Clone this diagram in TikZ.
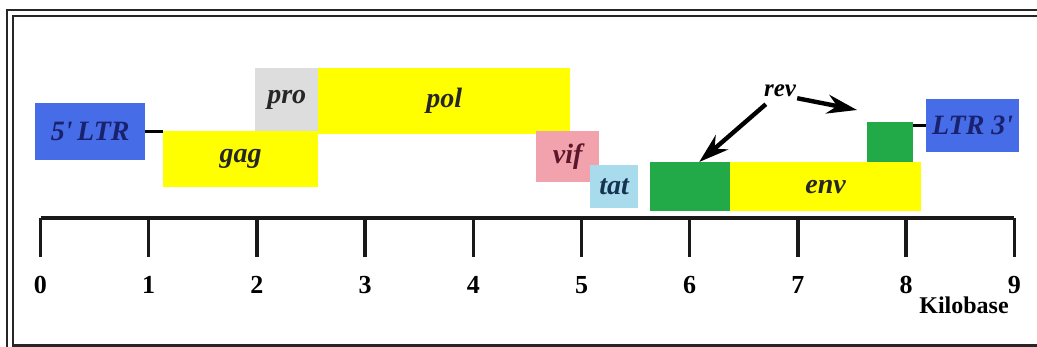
\documentclass[tikz,border=0pt]{standalone}
\usepackage{fontspec}
\setmainfont{Liberation Serif}
\usetikzlibrary{arrows.meta,calc}

\definecolor{ltrblue}{RGB}{70,108,232}
\definecolor{genyellow}{RGB}{255,255,0}
\definecolor{progray}{RGB}{221,221,221}
\definecolor{vifpink}{RGB}{242,162,172}
\definecolor{tatblue}{RGB}{168,220,236}
\definecolor{revgreen}{RGB}{34,170,72}
\definecolor{ltrtext}{RGB}{24,34,110}
\definecolor{viftext}{RGB}{92,22,42}
\definecolor{tattext}{RGB}{22,50,82}

\newcommand{\genefont}{\fontsize{28}{32}\selectfont\bfseries\itshape}
\newcommand{\numfont}{\fontsize{26}{30}\selectfont\bfseries}

\begin{document}
\begin{tikzpicture}[
		x=1pt,y=-1pt,
		frame/.style={line width=2.6pt,black!85},
		axisline/.style={line width=3.6pt,black!90,line cap=square},
		tick/.style={line width=3.4pt,black!90},
		gene/.style={rectangle,inner sep=0pt,anchor=north west,font=\genefont,text=black!85},
		link/.style={line width=2.8pt,black},
		revarrow/.style={-{Stealth[length=30pt,width=19pt]},line width=4.4pt,black},
		num/.style={font=\numfont,inner sep=1pt},
		lab/.style={font=\fontsize{25}{29}\selectfont\bfseries\itshape,inner sep=1pt}
		]
		\useasboundingbox (0,0) rectangle (1037,347);
		% ===== Parameters =====
		\def\xo{40.5}          % position of 0 kb
		\def\kb{108.2}         % one kilobase
		\def\ya{218}           % axis height
		% ===== Double frame =====
		\draw[frame] (7,347) -- (7,10) -- (1037,10);
		\draw[frame] (13,347) -- (13,16) -- (1037,16);
		\draw[frame] (13,345.5) -- (1037,345.5);
		% ===== Genes =====
		\node[gene,fill=ltrblue,text=ltrtext,minimum width=110pt,minimum height=57pt]
		(ltrL) at (35,103) {5\textquotesingle\,LTR};
		\node[gene,fill=progray,minimum width=63pt,minimum height=63pt]
		(pro) at (255,68) {pro};
		\node[gene,fill=genyellow,minimum width=155pt,minimum height=56pt]
		(gag) at (163,131) {gag};
		\node[gene,fill=genyellow,minimum width=252pt,minimum height=66pt]
		(pol) at (318,68) {pol};
		\node[gene,fill=vifpink,text=viftext,minimum width=63pt,minimum height=51pt]
		(vif) at (536,131) {vif};
		\node[gene,fill=tatblue,text=tattext,minimum width=48pt,minimum height=43pt]
		(tat) at (590,165) {tat};
		\node[gene,fill=revgreen,minimum width=80pt,minimum height=49pt]
		(gA) at (650,162) {};
		\node[gene,fill=genyellow,minimum width=191pt,minimum height=49pt]
		(env) at (730,162) {env};
		\node[gene,fill=revgreen,minimum width=46pt,minimum height=40pt]
		(gB) at (867,122) {};
		\node[gene,fill=ltrblue,text=ltrtext,minimum width=93pt,minimum height=53pt]
		(ltrR) at (926,99) {LTR 3\textquotesingle};
		% ===== Links to the LTRs =====
		\draw[link] (ltrL.east) -- (ltrL.east -| gag.west);
		\draw[link] (ltrR.west -| gB.east) -- (ltrR.west);
		% ===== rev and its two exons =====
		\node[lab] (rev) at (780,91) {rev};
		\coordinate (revtip) at (857,110);
		\draw[revarrow] ([xshift=3pt,yshift=-6pt]rev.south west) -- ([xshift=9pt]gA.north);
		\draw[revarrow] (rev.south east) -- (revtip);
		% ===== Kilobase axis =====
		\coordinate (a0) at (\xo,\ya);
		\coordinate (a9) at ({\xo+9*\kb},\ya);
		\draw[axisline] (a0) -- (a9);
		\foreach \i in {0,...,9}{
			\pgfmathsetmacro{\tx}{\xo+\kb*\i}
			\draw[tick] (\tx,\ya) -- (\tx,257);
			\node[num] (n\i) at (\tx,285) {\i};
		}
		\node[num,font=\fontsize{24}{28}\selectfont\bfseries] (kbase) at (964,305) {Kilobase};
	\end{tikzpicture}
\end{document}
